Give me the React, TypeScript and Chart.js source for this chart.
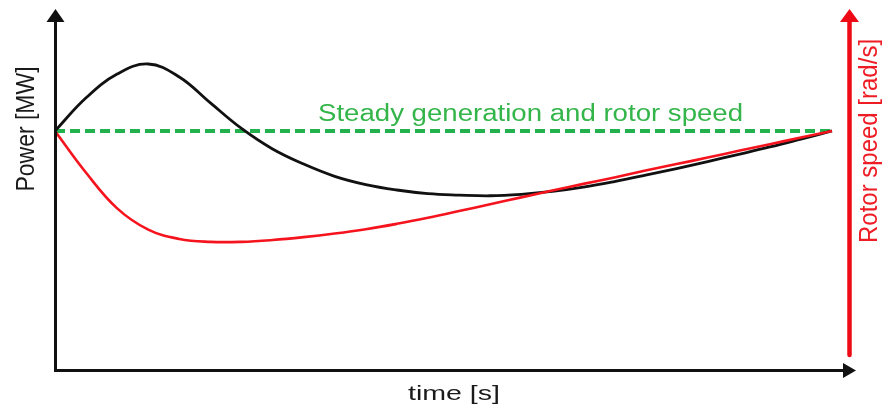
import React, { useEffect, useRef } from "react";
import { Chart, registerables } from "chart.js";

Chart.register(...registerables);

// Time axis (arbitrary units, 0..100)
const time = [0, 4, 8, 12, 16, 20, 24, 28, 32, 36, 40, 44, 48, 52, 56, 60, 64, 68, 72, 76, 80, 84, 88, 92, 96, 100];
// Power [MW] curve (black), arbitrary units
const power = [66.4, 75.6, 82.2, 85.0, 81.4, 74.2, 67.1, 61.4, 57.2, 53.8, 51.5, 50.0, 49.0, 48.6, 48.4, 48.8, 49.6, 50.8, 52.35, 54.1, 55.95, 57.9, 59.9, 61.95, 64.15, 66.4];
// Rotor speed [rad/s] curve (red), arbitrary units
const rotorSpeed = [66.4, 54.8, 44.9, 39.0, 36.4, 35.6, 35.6, 36.1, 36.9, 37.9, 39.1, 40.6, 42.3, 44.15, 46.05, 47.95, 49.85, 51.7, 53.5, 55.4, 57.2, 59.0, 60.9, 62.7, 64.6, 66.4];
// Steady generation and rotor speed reference
const steadyTime = [0, 100];
const steadyLevel = [66.4, 66.4];

const xLabel = "time [s]";
const yLeftLabel = "Power [MW]";
const yRightLabel = "Rotor speed [rad/s]";
const steadyLabel = "Steady generation and rotor speed";

const axesPlugin = {
  id: "axesArrows",
  afterDraw(chart: any) {
    const { ctx, chartArea } = chart;
    const { left, right, bottom, top } = chartArea;
    const ys = chart.scales.y;
    ctx.save();

    // left axis (black)
    const lx = left + 0.5;
    ctx.strokeStyle = "#111";
    ctx.fillStyle = "#111";
    ctx.lineWidth = 3;
    ctx.lineCap = "butt";
    ctx.beginPath();
    ctx.moveTo(lx, bottom + 2);
    ctx.lineTo(lx, top + 10);
    ctx.stroke();
    ctx.beginPath();
    ctx.moveTo(lx, top - 1);
    ctx.lineTo(lx - 9, top + 12);
    ctx.lineTo(lx + 9, top + 12);
    ctx.closePath();
    ctx.fill();

    // bottom axis (black)
    const by = bottom + 0.5;
    ctx.beginPath();
    ctx.moveTo(lx - 1.5, by);
    ctx.lineTo(right - 4, by);
    ctx.stroke();
    ctx.beginPath();
    ctx.moveTo(right + 7, by);
    ctx.lineTo(right - 6, by - 7.5);
    ctx.lineTo(right - 6, by + 7.5);
    ctx.closePath();
    ctx.fill();

    // right axis (red)
    const rx = right + 0.5;
    ctx.strokeStyle = "#ee0a14";
    ctx.fillStyle = "#ee0a14";
    ctx.lineWidth = 4.5;
    ctx.lineCap = "round";
    ctx.beginPath();
    ctx.moveTo(rx, bottom - 15);
    ctx.lineTo(rx, top + 10);
    ctx.stroke();
    ctx.beginPath();
    ctx.moveTo(rx, top - 1);
    ctx.lineTo(rx - 9.5, top + 12);
    ctx.lineTo(rx + 9.5, top + 12);
    ctx.closePath();
    ctx.fill();

    // labels
    ctx.textAlign = "center";
    ctx.textBaseline = "middle";

    // left label
    ctx.save();
    ctx.fillStyle = "#1a1a1a";
    ctx.font = "23px 'Liberation Sans', Arial, sans-serif";
    ctx.translate(27, 129);
    ctx.rotate(-Math.PI / 2);
    ctx.scale(1, 1.15);
    ctx.fillText(yLeftLabel, 0, 0);
    ctx.restore();

    // right label
    ctx.save();
    ctx.fillStyle = "#ee1c24";
    ctx.font = "24px 'Liberation Sans', Arial, sans-serif";
    ctx.translate(870, 141);
    ctx.rotate(-Math.PI / 2);
    ctx.scale(1, 1.1);
    ctx.fillText(yRightLabel, 0, 0);
    ctx.restore();

    // x label
    ctx.save();
    ctx.fillStyle = "#1a1a1a";
    ctx.font = "21px 'Liberation Sans', Arial, sans-serif";
    ctx.translate(454, 394);
    ctx.scale(1.36, 1);
    ctx.fillText(xLabel, 0, 0);
    ctx.restore();

    // steady label
    ctx.save();
    ctx.fillStyle = "#33b549";
    ctx.font = "23px 'Liberation Sans', Arial, sans-serif";
    ctx.textAlign = "left";
    ctx.textBaseline = "alphabetic";
    const ly = ys.getPixelForValue(steadyLevel[0]) - 9.5;
    ctx.translate(318, ly);
    ctx.scale(1.2, 1);
    ctx.fillText(steadyLabel, 0, 0);
    ctx.restore();

    ctx.restore();
  },
};

export default function App() {
  const ref = useRef<HTMLCanvasElement | null>(null);

  useEffect(() => {
    if (!ref.current) return;
    const chart = new Chart(ref.current, {
      type: "line",
      data: {
        datasets: [
          {
            label: "Rotor speed",
            data: time.map((t, i) => ({ x: t, y: rotorSpeed[i] })),
            borderColor: "#f5141e",
            borderWidth: 2.6,
            pointRadius: 0,
            tension: 0.4,
            fill: false,
          },
          {
            label: "Power",
            data: time.map((t, i) => ({ x: t, y: power[i] })),
            borderColor: "#111111",
            borderWidth: 2.8,
            pointRadius: 0,
            tension: 0.4,
            fill: false,
          },
          {
            label: "Steady",
            data: steadyTime.map((t, i) => ({ x: t, y: steadyLevel[i] })),
            borderColor: "#22b14c",
            borderWidth: 4,
            borderDash: [10, 5],
            pointRadius: 0,
            fill: false,
          },
        ],
      },
      options: {
        responsive: false,
        animation: false,
        devicePixelRatio: 1,
        layout: { padding: { left: 55, right: 39, top: 10, bottom: 42 } },
        plugins: { legend: { display: false }, tooltip: { enabled: false } },
        scales: {
          x: { type: "linear", min: 0, max: 102.19, display: false },
          y: { type: "linear", min: 0, max: 100, display: false },
        },
      },
      plugins: [axesPlugin],
    });
    return () => chart.destroy();
  }, []);

  return (
    <div style={{ position: "fixed", left: 0, top: 0, width: 888, height: 412, background: "#fff" }}>
      <canvas ref={ref} width={888} height={412} style={{ width: 888, height: 412 }} />
    </div>
  );
}
